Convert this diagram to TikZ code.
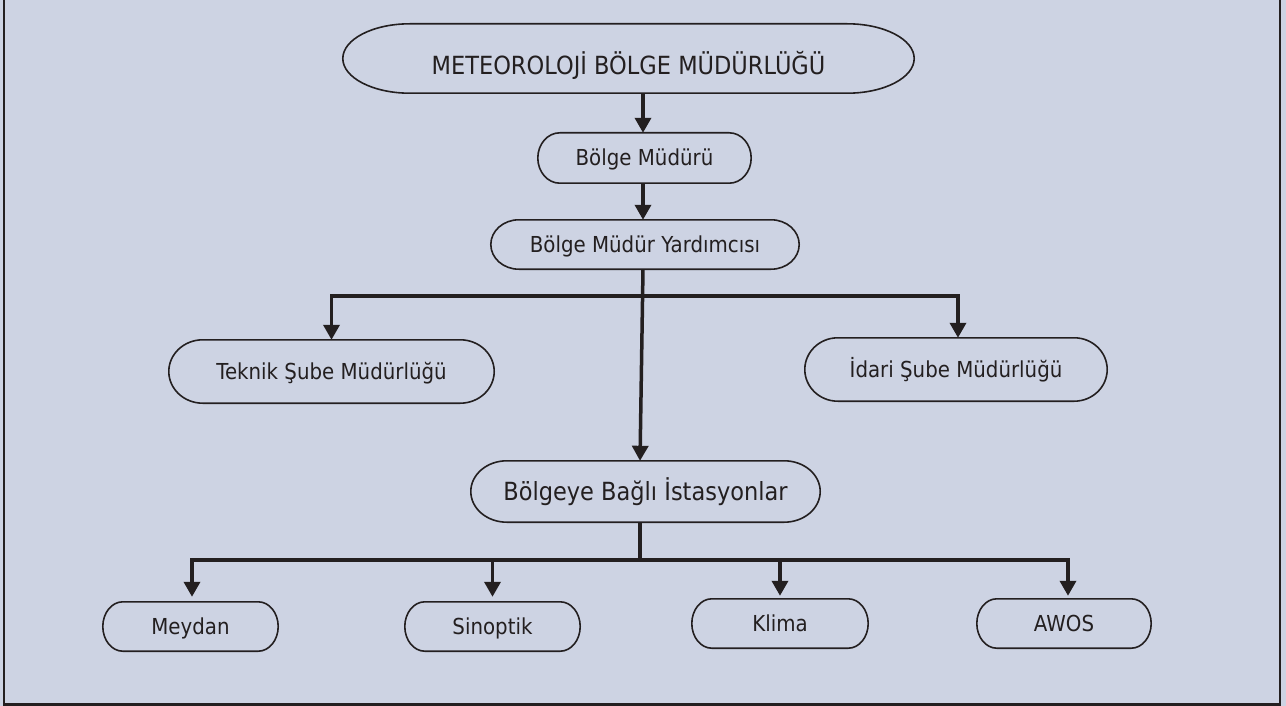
\documentclass[tikz,border=0pt]{standalone}
\usepackage{fontspec}
\setmainfont{DejaVu Sans}[FakeStretch=0.9]
\usetikzlibrary{arrows.meta,calc}
\definecolor{bgc}{RGB}{205,211,227}
\definecolor{ink}{RGB}{35,31,32}
\newcommand\capsule[2]{%
  \draw[boxline] let \p1=(#1.north east), \p2=(#1.south west), \n1={(\y1-\y2)/2} in
    (\x2+#2pt,\y1) -- (\x1-#2pt,\y1)
    arc[start angle=90,end angle=-90,x radius=#2pt,y radius=\n1]
    -- (\x2+#2pt,\y2)
    arc[start angle=270,end angle=90,x radius=#2pt,y radius=\n1] -- cycle;}
\tikzset{
  boxline/.style={draw=ink,line width=1.6pt},
  box/.style={inner sep=0pt,text=ink,font=\fontsize{22}{26}\selectfont,text height=16pt,text depth=0pt},
  bigbox/.style={box,font=\fontsize{25}{30}\selectfont,text height=18.2pt},
  conn/.style={draw=ink,line width=3.5pt},
  arr/.style={conn,-{Triangle[width=16pt,length=15pt]}},
  frameline/.style={draw=ink,line width=2.5pt}
}
\begin{document}
\begin{tikzpicture}[x=1pt,y=1pt]
\fill[bgc] (0,0) rectangle (1286,-706);
\useasboundingbox (0,0) rectangle (1286,-706);
\draw[frameline] (4,0) -- (4,-704.5) -- (1280,-704.5) -- (1280,0);

\node[bigbox,text height=31.2pt,minimum width=571pt,minimum height=69pt] (title) at (628.5,-58.5) {METEOROLOJİ BÖLGE MÜDÜRLÜĞÜ};
\node[box,minimum width=213pt,minimum height=50pt] (bm) at (644.5,-158) {Bölge Müdürü};
\node[box,minimum width=308pt,minimum height=49pt] (bmy) at (645,-244.5) {Bölge Müdür Yardımcısı};
\node[box,minimum width=325pt,minimum height=63pt] (teknik) at (331.5,-371.5) {Teknik Şube Müdürlüğü};
\node[box,minimum width=302pt,minimum height=63pt] (idari) at (956,-369.5) {İdari Şube Müdürlüğü};
\node[bigbox,minimum width=349pt,minimum height=61pt] (bolgeye) at (645.5,-491.5) {Bölgeye Bağlı İstasyonlar};
\node[box,minimum width=175pt,minimum height=49pt] (meydan) at (190.5,-626.5) {Meydan};
\node[box,minimum width=175pt,minimum height=49pt] (sinoptik) at (492.5,-626.5) {Sinoptik};
\node[box,minimum width=176pt,minimum height=49pt] (klima) at (780,-623.5) {Klima};
\node[box,minimum width=174pt,minimum height=49pt] (awos) at (1064,-623.5) {AWOS};

\capsule{title}{67}
\capsule{bm}{22}
\capsule{bmy}{28}
\capsule{teknik}{34}
\capsule{idari}{33}
\capsule{bolgeye}{36}
\capsule{meydan}{20}
\capsule{sinoptik}{20}
\capsule{klima}{20}
\capsule{awos}{20}

\draw[arr] ([xshift=-1.5pt]bm.north |- title.south) -- ([xshift=-1.5pt]bm.north);
\draw[arr] ([xshift=-1.5pt]bm.south) -- ([xshift=-1.5pt]bm.south |- bmy.north);

\coordinate (j1) at ([xshift=-2pt,yshift=-27pt]bmy.south);
\draw[arr] ([xshift=-2pt]bmy.south) -- ([xshift=-5.5pt]bolgeye.north);
\draw[arr] (j1) -| (teknik.north);
\draw[arr] (j1) -| ([xshift=2pt]idari.north);

\coordinate (j2) at ([xshift=-5.5pt,yshift=-38pt]bolgeye.south);
\draw[conn] ([xshift=-5.5pt]bolgeye.south) -- (j2);
\draw[arr,shorten >=5pt] (j2) -| ([xshift=1.5pt]meydan.north);
\draw[arr,shorten >=5pt] (j2) -| (sinoptik.north);
\draw[arr,shorten >=3pt] (j2) -| (klima.north);
\draw[arr,shorten >=3pt] (j2) -| ([xshift=4pt]awos.north);
\end{tikzpicture}
\end{document}
